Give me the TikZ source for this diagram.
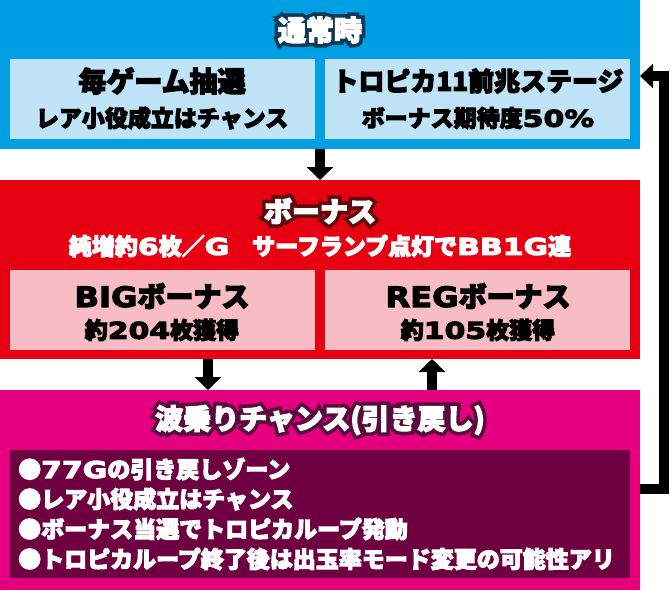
\documentclass[tikz,border=0pt]{standalone}
\usepackage{fontspec}
\setmainfont{Noto Sans CJK JP}[BoldFeatures={FakeBold=4.5}]
\newfontfamily\outl{Noto Sans CJK JP}[BoldFeatures={FakeBold=30}]
\newfontfamily\latA{DejaVu Sans}[BoldFeatures={FakeBold=4},FakeStretch=1.15]
\newfontfamily\latB{DejaVu Sans}[BoldFeatures={FakeBold=5},FakeStretch=1.3]
\usetikzlibrary{arrows.meta}
\definecolor{cblue}{HTML}{009FE3}
\definecolor{clightblue}{HTML}{BFE4F8}
\definecolor{cred}{HTML}{E60012}
\definecolor{cpink}{HTML}{F8BDC4}
\definecolor{cmag}{HTML}{E4007F}
\definecolor{cdark}{HTML}{6E0042}
\definecolor{oblue}{HTML}{0B3A57}
\definecolor{ored}{HTML}{5E0A0A}
\definecolor{omag}{HTML}{5A0A3C}
\newcommand{\fs}[1]{\fontsize{#1}{#1}\selectfont}
\newcommand{\la}[1]{{\latA\bfseries #1}}
\newcommand{\ld}[1]{{\latB\bfseries #1}}
\begin{document}
\begin{tikzpicture}[x=1pt,y=-1pt,
  panel/.style={draw=none,rectangle,anchor=north west,inner sep=0pt,outer sep=0pt},
  head/.style={font=\fs{28}\bfseries,text=white,inner sep=0pt},
  headout/.style={font=\fs{28}\outl\bfseries,inner sep=0pt},
  big/.style={font=\fs{28}\bfseries,text=black,inner sep=0pt},
  small/.style={font=\fs{23}\bfseries,text=black,inner sep=0pt},
  wline/.style={font=\fs{23}\bfseries,text=white,inner sep=0pt},
  bul/.style={font=\fs{23}\bfseries,text=white,inner sep=0pt,anchor=west},
  arr/.style={line width=10pt,-{Triangle[width=26pt,length=13pt]}}
]
\useasboundingbox (0,0) rectangle (670,590);
% panels
\node[panel,fill=cblue,minimum width=640pt,minimum height=149pt] (blue) at (0,0) {};
\node[panel,fill=clightblue,minimum width=305pt,minimum height=80pt] (b1) at (10,59) {};
\node[panel,fill=clightblue,minimum width=305pt,minimum height=80pt] (b2) at (325,59) {};
\node[panel,fill=cred,minimum width=640pt,minimum height=179pt] (red) at (0,180) {};
\node[panel,fill=cpink,minimum width=305pt,minimum height=80pt] (p1) at (10,270) {};
\node[panel,fill=cpink,minimum width=305pt,minimum height=80pt] (p2) at (325,270) {};
\node[panel,fill=cmag,minimum width=640pt,minimum height=200pt] (mag) at (0,390) {};
\node[panel,fill=cdark,minimum width=620pt,minimum height=128pt] (dk) at (10,450) {};
% titles
\node[headout,text=oblue] (t1o) at (320,30) {通常時};
\node[head] (t1) at (320,30) {通常時};
\node[headout,text=ored] (t2o) at (320,211) {ボーナス};
\node[head] (t2) at (320,211) {ボーナス};
\node[headout,text=omag] (t3o) at (320,420) {波乗りチャンス(引き戻し)};
\node[head] (t3) at (320,420) {波乗りチャンス(引き戻し)};
% box texts
\node[big] (b1a) at (162,81) {毎ゲーム抽選};
\node[small] (b1b) at (162,118) {レア小役成立はチャンス};
\node[big,font=\fs{26}\bfseries] (b2a) at (478,81) {トロピカ11前兆ステージ};
\node[small] (b2b) at (478,118) {ボーナス期待度\ld{50\%}};
\node[wline] (t2b) at (320,246) {純増約\ld{6}枚／\ld{G}　サーフランプ点灯で\ld{BB1G}連};
\node[big] (p1a) at (162,296) {\la{BIG}ボーナス};
\node[small] (p1b) at (162,330) {約\ld{204}枚獲得};
\node[big] (p2a) at (478,296) {\la{REG}ボーナス};
\node[small] (p2b) at (478,330) {約\ld{105}枚獲得};
\node[bul] (l1) at (18,469) {●\ld{77G}の引き戻しゾーン};
\node[bul] (l2) at (18,499) {●レア小役成立はチャンス};
\node[bul] (l3) at (18,529) {●ボーナス当選でトロピカループ発動};
\node[bul] (l4) at (18,559) {●トロピカループ終了後は出玉率モード変更の可能性アリ};
% connectors
\draw[arr] (blue.south) -- (red.north);
\coordinate (d1) at (208,359);
\coordinate (d2) at (208,390);
\draw[arr] (d1) -- (d2);
\coordinate (u1) at (432,390);
\coordinate (u2) at (432,359);
\draw[arr] (u1) -- (u2);
\coordinate (r1) at (640,489);
\coordinate (r2) at (664,489);
\coordinate (r3) at (664,76);
\coordinate (r4) at (640,76);
\draw[line width=10pt,-{Triangle[width=24pt,length=13pt]}] (r1) -- (r2) -- (r3) -- (r4);
\end{tikzpicture}
\end{document}
